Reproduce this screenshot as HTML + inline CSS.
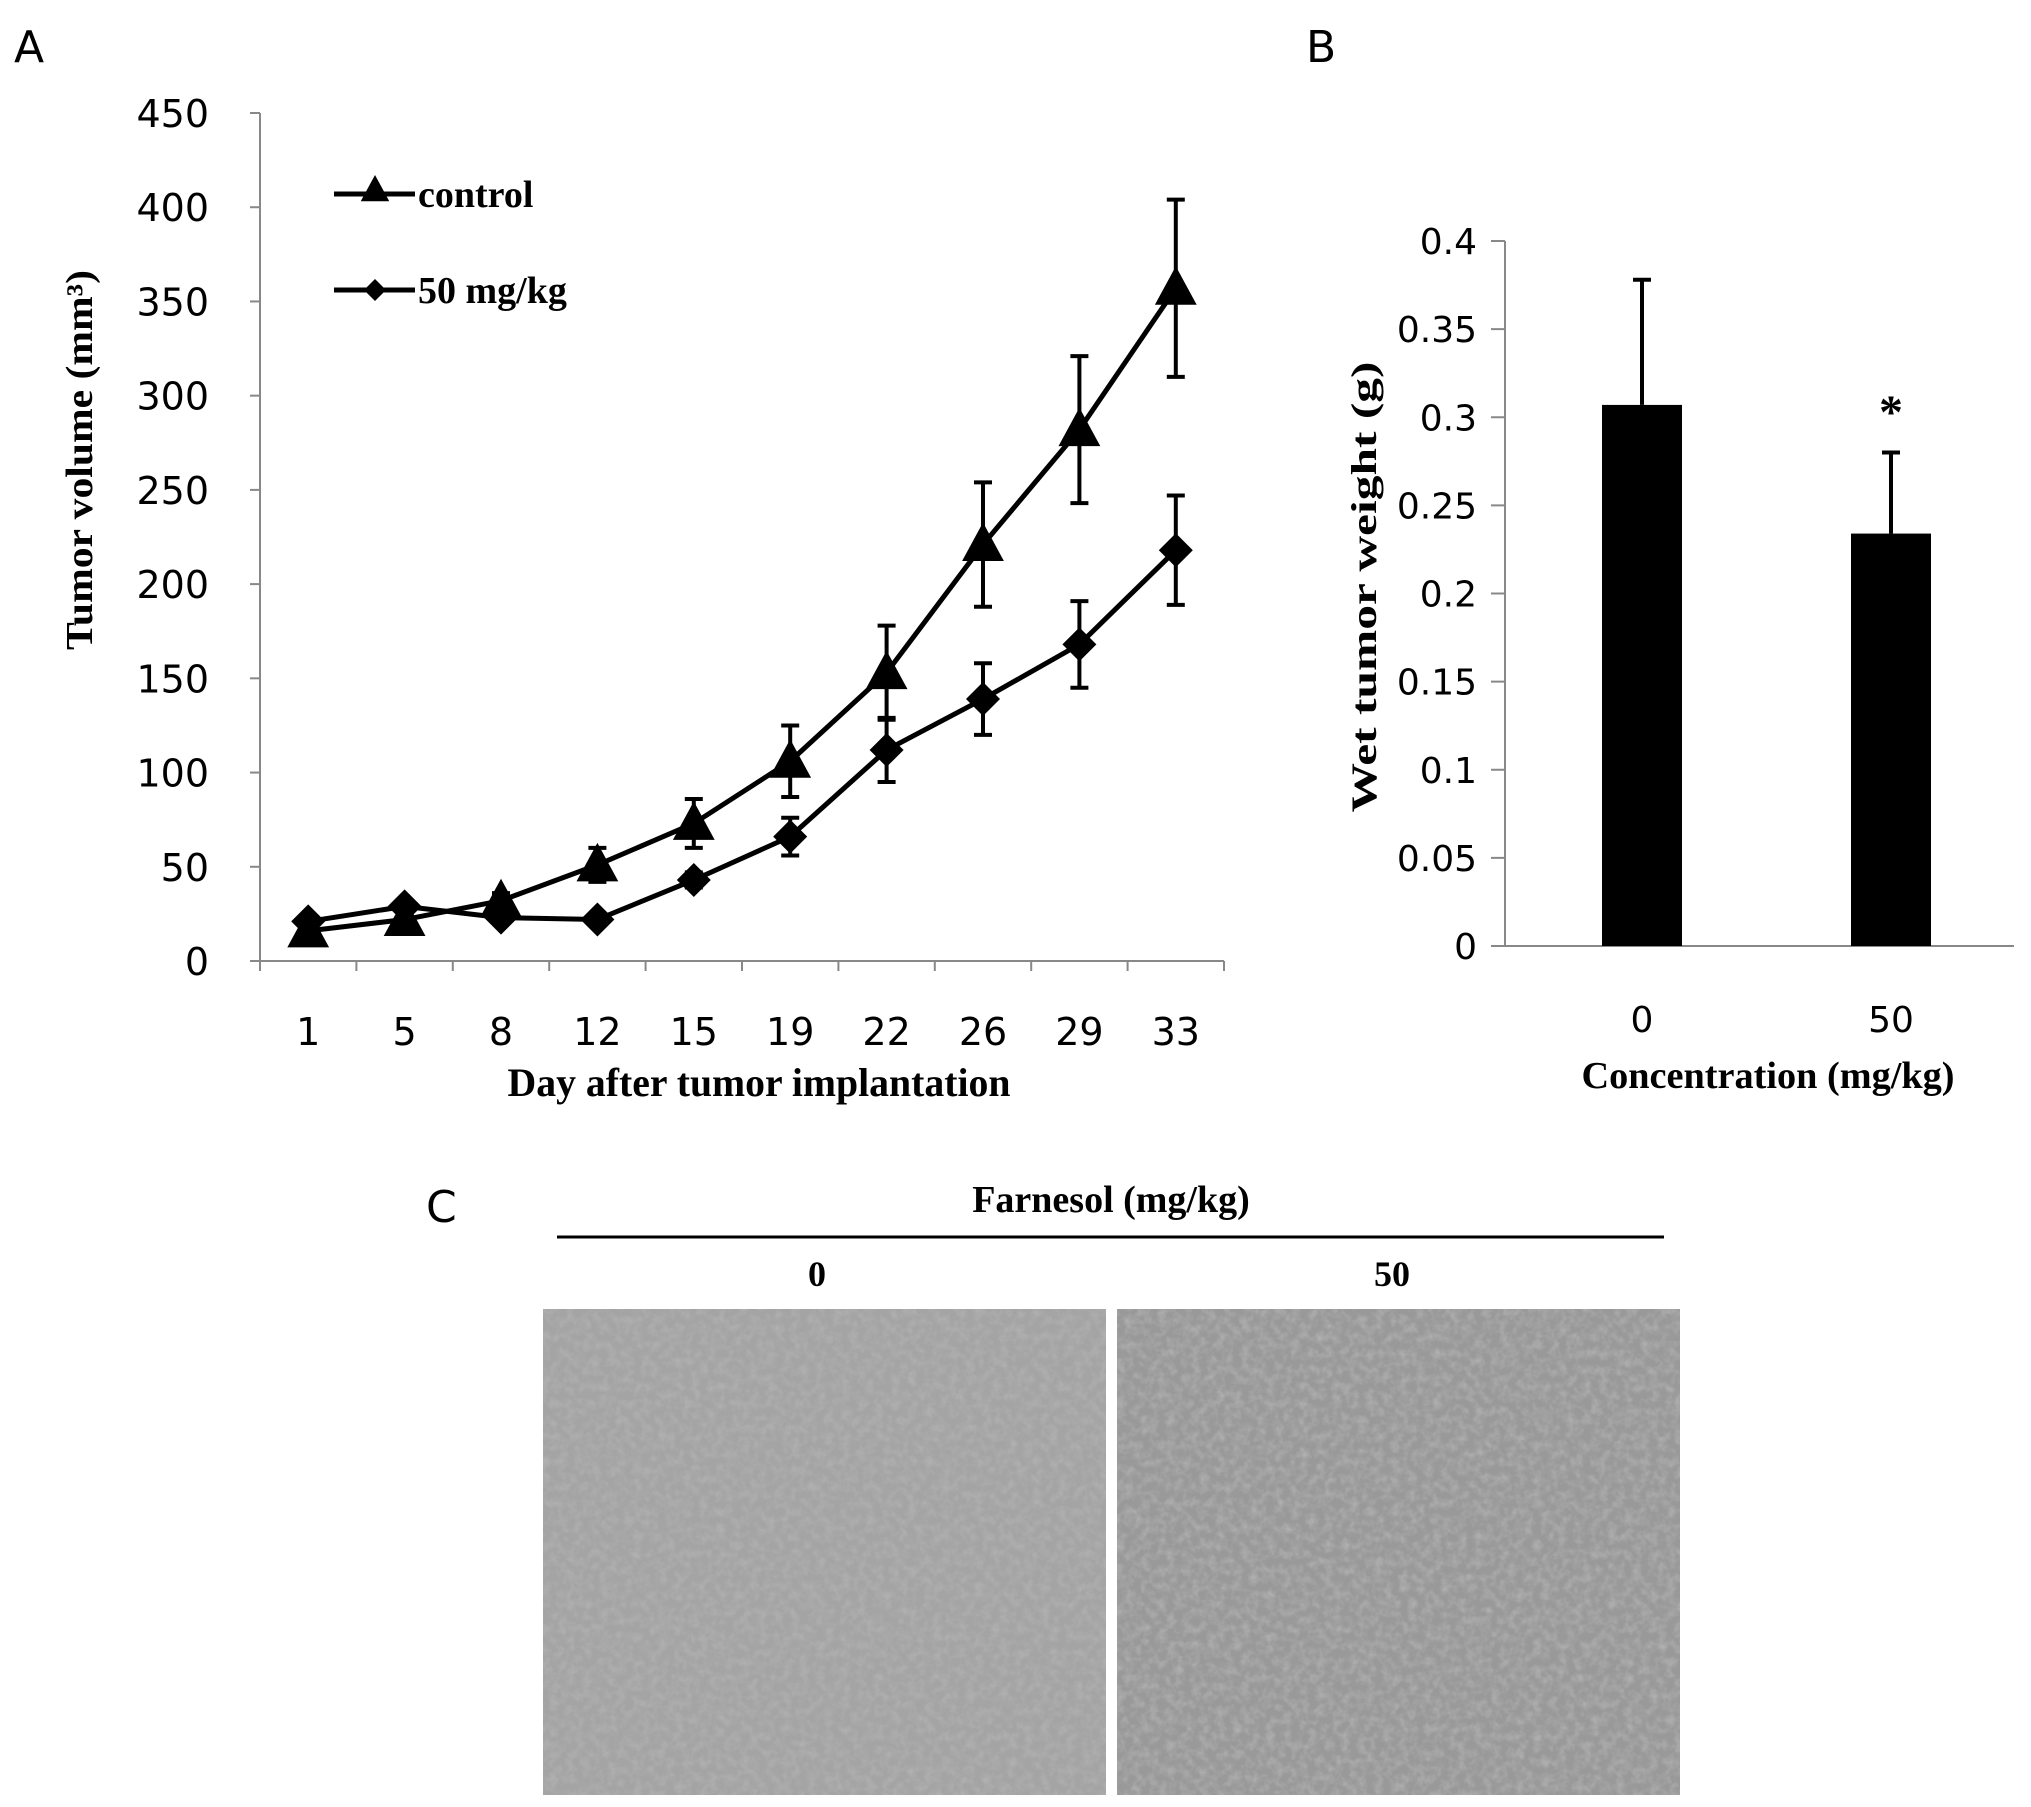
<!DOCTYPE html>
<html><head><meta charset="utf-8"><style>
html,body{margin:0;padding:0;background:#fff;}
svg{display:block;}
.sans{font-family:"DejaVu Sans","Liberation Sans",sans-serif;}
.serif{font-family:"Liberation Serif",serif;font-weight:bold;}
</style></head><body>
<svg id="fig" width="2031" height="1807" viewBox="0 0 2031 1807" xmlns="http://www.w3.org/2000/svg">
<defs>
<filter id="tex" x="0" y="0" width="100%" height="100%">
<feTurbulence type="fractalNoise" baseFrequency="0.12" numOctaves="3" seed="3"/>
<feColorMatrix type="matrix" values="0 0 0 0 0.45  0 0 0 0 0.45  0 0 0 0 0.45  0 0 0 -1.6 1.0"/>
</filter>
</defs>
<text x="14" y="62" class="sans" font-size="44">A</text>
<text x="1306" y="62" class="sans" font-size="44">B</text>
<text x="426" y="1222" class="sans" font-size="44">C</text>
<g id="chartA"></g>
<g id="chartB"></g>
<g>
<text x="1111" y="1212" text-anchor="middle" class="serif" font-size="38">Farnesol (mg/kg)</text>
<line x1="557" y1="1237" x2="1664" y2="1237" stroke="#000" stroke-width="3"/>
<text x="817" y="1286" text-anchor="middle" class="serif" font-size="36">0</text>
<text x="1392" y="1286" text-anchor="middle" class="serif" font-size="36">50</text>
<rect x="543" y="1309" width="563" height="486" fill="#a4a4a4"/>
<rect x="543" y="1309" width="563" height="486" filter="url(#tex)"/>
<rect x="1117" y="1309" width="563" height="486" fill="#999"/>
<rect x="1117" y="1309" width="563" height="486" filter="url(#tex)"/>
</g>
</svg>
<script>
const days = ["1","5","8","12","15","19","22","26","29","33"];
const controlVals = [16,22,32,51,73,106,153,221,282,357];
const controlErr = [3,4,4,9,13,19,25,33,39,47];
const doseVals = [21,29,23,22,43,66,112,139,168,218];
const doseErr = [3,3,3,3,4,10,17,19,23,29];
const aTicks = [0,50,100,150,200,250,300,350,400,450];
const groups = ["0","50"];
const weights = [0.307,0.234];
const weightErr = [0.071,0.046];
const bTicks = [0,0.05,0.1,0.15,0.2,0.25,0.3,0.35,0.4];
const bTickLabels = ["0","0.05","0.1","0.15","0.2","0.25","0.3","0.35","0.4"];

const NS="http://www.w3.org/2000/svg";
function mk(p,t,a){const e=document.createElementNS(NS,t);for(const k in a)e.setAttribute(k,a[k]);p.appendChild(e);return e;}

// Chart A
const A=document.getElementById('chartA');
const ax0=260, ax1=1224, ay0=961, ay1=113;
const yA=v=>ay0-(v/450)*(ay0-ay1);
const bw=(ax1-ax0)/days.length;
const xA=i=>ax0+bw*(i+0.5);
let e=mk(A,'line',{x1:ax0,y1:ay1,x2:ax0,y2:ay0,stroke:'#888','stroke-width':2});


e=mk(A,'line',{x1:ax0,y1:ay0,x2:ax1,y2:ay0,stroke:'#888','stroke-width':2});


aTicks.forEach(t=>{
  mk(A,'line',{x1:ax0-10,y1:yA(t),x2:ax0,y2:yA(t),stroke:'#888','stroke-width':2});
  const tx=mk(A,'text',{x:209,y:yA(t)+14,'text-anchor':'end','class':'sans','font-size':38});
  tx.textContent=t;
  
  
});
for(let i=0;i<=days.length;i++){mk(A,'line',{x1:ax0+bw*i,y1:ay0,x2:ax0+bw*i,y2:ay0+10,stroke:'#888','stroke-width':2});}
days.forEach((d,i)=>{
  const tx=mk(A,'text',{x:xA(i),y:1045,'text-anchor':'middle','class':'sans','font-size':38});
  tx.textContent=d;
  
  
});
e=mk(A,'text',{x:759,y:1096,'text-anchor':'middle','class':'serif','font-size':40,textLength:503,lengthAdjust:'spacingAndGlyphs'});
e.textContent='Day after tumor implantation';


e=mk(A,'text',{x:0,y:0,'text-anchor':'middle','class':'serif','font-size':38,textLength:380,lengthAdjust:'spacingAndGlyphs',transform:'translate(92,460) rotate(-90)'});
e.textContent='Tumor volume (mm³)';


function tri(g,x,y,s){return mk(g,'polygon',{points:`${x},${y-s} ${x-s*0.95},${y+s*0.75} ${x+s*0.95},${y+s*0.75}`,fill:'#000'});}
function dia(g,x,y,s){return mk(g,'polygon',{points:`${x},${y-s} ${x+s},${y} ${x},${y+s} ${x-s},${y}`,fill:'#000'});}
function series(vals,errs,shape,name){
  const g=mk(A,'g',{});
  
  
  vals.forEach((v,i)=>{
    const x=xA(i);
    mk(g,'line',{x1:x,y1:yA(v+errs[i]),x2:x,y2:yA(v-errs[i]),stroke:'#000','stroke-width':4});
    mk(g,'line',{x1:x-9,y1:yA(v+errs[i]),x2:x+9,y2:yA(v+errs[i]),stroke:'#000','stroke-width':4});
    mk(g,'line',{x1:x-9,y1:yA(v-errs[i]),x2:x+9,y2:yA(v-errs[i]),stroke:'#000','stroke-width':4});
  });
  mk(g,'polyline',{points:vals.map((v,i)=>xA(i)+','+yA(v)).join(' '),fill:'none',stroke:'#000','stroke-width':5});
  vals.forEach((v,i)=>{const m=shape(g,xA(i),yA(v),shape===tri?22:17);});
}
series(controlVals,controlErr,tri,'control-series');
series(doseVals,doseErr,dia,'dose-series');
// legend
const L=mk(A,'g',{});


mk(L,'line',{x1:334,y1:194,x2:415,y2:194,stroke:'#000','stroke-width':5});tri(L,375,190,15);
e=mk(L,'text',{x:418,y:207,'class':'serif','font-size':38});e.textContent='control';


mk(L,'line',{x1:334,y1:290,x2:415,y2:290,stroke:'#000','stroke-width':5});dia(L,375,290,11);
e=mk(L,'text',{x:418,y:303,'class':'serif','font-size':38});e.textContent='50 mg/kg';



// Chart B
const B=document.getElementById('chartB');
const bx0=1505,bx1=2014,by0=946,by1=241;
const yB=v=>by0-(v/0.4)*(by0-by1);
const bcx=[1642,1891];
e=mk(B,'line',{x1:bx0,y1:by1,x2:bx0,y2:by0,stroke:'#888','stroke-width':2});


e=mk(B,'line',{x1:bx0-14,y1:by0,x2:bx1,y2:by0,stroke:'#888','stroke-width':2});


bTicks.forEach((t,i)=>{
  mk(B,'line',{x1:bx0-14,y1:yB(t),x2:bx0,y2:yB(t),stroke:'#888','stroke-width':2});
  const tx=mk(B,'text',{x:1477,y:yB(t)+13,'text-anchor':'end','class':'sans','font-size':36});
  tx.textContent=bTickLabels[i];
  
  
});
groups.forEach((g,i)=>{
  const x=bcx[i],v=weights[i],er=weightErr[i];
  const r=mk(B,'rect',{x:x-40,y:yB(v),width:80,height:by0-yB(v),fill:'#000'});
  
  
  mk(B,'line',{x1:x,y1:yB(v),x2:x,y2:yB(v+er),stroke:'#000','stroke-width':4});
  mk(B,'line',{x1:x-9,y1:yB(v+er),x2:x+9,y2:yB(v+er),stroke:'#000','stroke-width':4});
  const tx=mk(B,'text',{x:x,y:1032,'text-anchor':'middle','class':'sans','font-size':36});
  tx.textContent=g;
  
  
});
e=mk(B,'text',{x:1891,y:428,'text-anchor':'middle','class':'serif','font-size':48});e.textContent='*';


e=mk(B,'text',{x:1768,y:1088,'text-anchor':'middle','class':'serif','font-size':38,textLength:373,lengthAdjust:'spacingAndGlyphs'});e.textContent='Concentration (mg/kg)';


e=mk(B,'text',{x:0,y:0,'text-anchor':'middle','class':'serif','font-size':36,textLength:451,lengthAdjust:'spacingAndGlyphs',transform:'translate(1376,587) rotate(-90)'});
e.textContent='Wet tumor weight (g)';


</script>
</body></html>
